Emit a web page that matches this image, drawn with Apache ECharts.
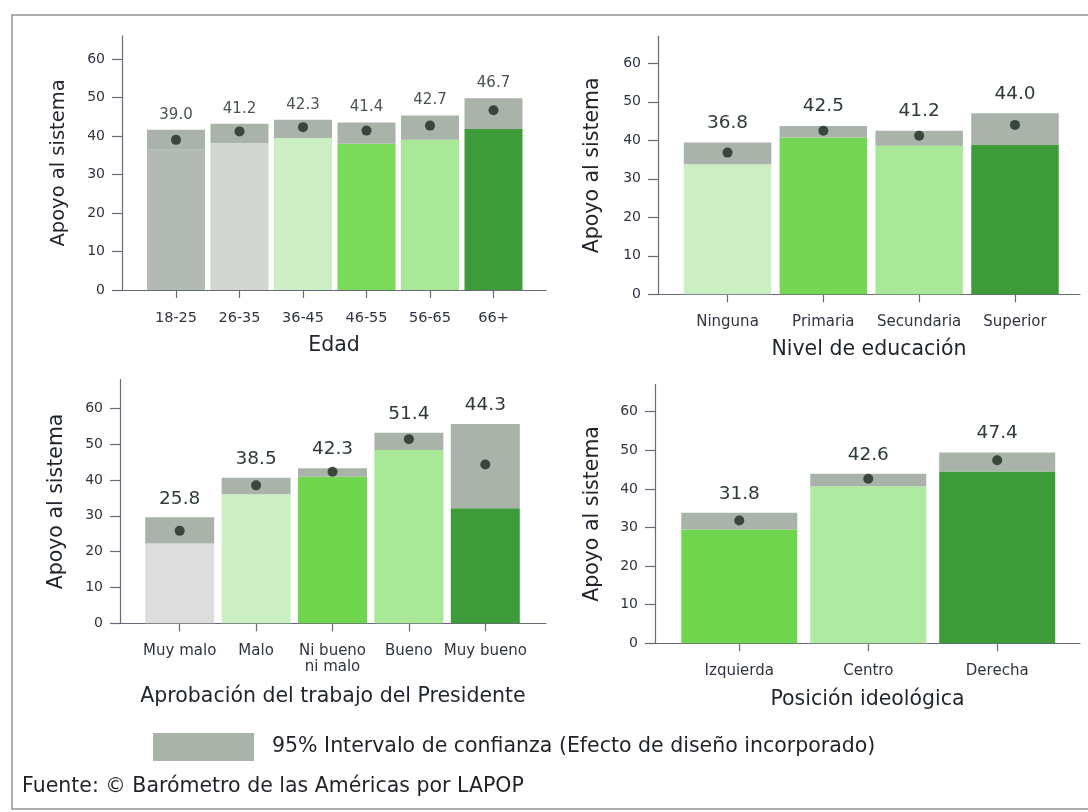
<!DOCTYPE html>
<html><head><meta charset="utf-8">
<script src="https://cdn.jsdelivr.net/npm/echarts@6/dist/echarts.min.js"></script>
<style>html,body{margin:0;padding:0;background:#fff}#c{width:1088px;height:812px}</style>
</head><body><div id="c"></div>
<script>
// ---------- DATA ----------
const yTicks = [0, 10, 20, 30, 40, 50, 60];

const edadCats = ['18-25', '26-35', '36-45', '46-55', '56-65', '66+'];
const edadMean = [39.0, 41.2, 42.3, 41.4, 42.7, 46.7];
const edadLow  = [36.4, 38.2, 39.5, 38.0, 39.0, 41.8];
const edadHigh = [41.6, 43.2, 44.2, 43.5, 45.3, 49.8];

const eduCats = ['Ninguna', 'Primaria', 'Secundaria', 'Superior'];
const eduMean = [36.8, 42.5, 41.2, 44.0];
const eduLow  = [33.8, 40.7, 38.6, 38.8];
const eduHigh = [39.4, 43.7, 42.5, 47.0];

const aprobCats = ['Muy malo', 'Malo', 'Ni bueno\nni malo', 'Bueno', 'Muy bueno'];
const aprobMean = [25.8, 38.5, 42.3, 51.4, 44.3];
const aprobLow  = [22.3, 36.0, 40.9, 48.4, 32.1];
const aprobHigh = [29.6, 40.6, 43.3, 53.2, 55.6];

const ideoCats = ['Izquierda', 'Centro', 'Derecha'];
const ideoMean = [31.8, 42.6, 47.4];
const ideoLow  = [29.5, 40.7, 44.5];
const ideoHigh = [33.8, 43.9, 49.4];

const yName = 'Apoyo al sistema';
const ciName = '95% Intervalo de confianza (Efecto de diseño incorporado)';
const sourceText = 'Fuente: © Barómetro de las Américas por LAPOP';

// ---------- STYLE ----------
const FONT = 'DejaVu Sans';
const CI_COLOR = '#a9b3aa';
const AXIS_COLOR = '#676b78';
const TEXT_COLOR = '#2f3440';
const G_DARK = '#3d9b3a', G_BRIGHT = '#74d652', G_LIGHT = '#a8e896', G_PALE = '#cbeec3';
const edadColors = ['#b3bab3', '#d2d7d2', G_PALE, '#7cda5a', G_LIGHT, G_DARK];
const eduColors = [G_PALE, G_BRIGHT, G_LIGHT, G_DARK];
const aprobColors = ['#dcdddc', G_PALE, '#6fd64e', G_LIGHT, G_DARK];
const ideoColors = ['#70d64e', '#aeeaa2', G_DARK];

const panels = [
  { cats: edadCats, mean: edadMean, low: edadLow, high: edadHigh, colors: edadColors, xName: 'Edad',
    axisX: 122, lineEnd: 546, catLeft: 144.25, catWidth: 381, zeroY: 290, ppu: 3.85, yMax: 66,
    barWidth: 58, valFont: 15, valColor: '#4a5252', valDist: 7.5, xNameGap: 45, yNameSize: 19.5, yNameGap: 53, catFont: 14.5 },
  { cats: eduCats, mean: eduMean, low: eduLow, high: eduHigh, colors: eduColors, xName: 'Nivel de educación',
    axisX: 658, lineEnd: 1080, catLeft: 679.6, catWidth: 383.3, zeroY: 294.3, ppu: 3.85, yMax: 67,
    barWidth: 87.5, valFont: 18.5, valColor: '#2f3b3b', valDist: 10, xNameGap: 45, yNameSize: 20.5, yNameGap: 54.5, catFont: 15 },
  { cats: aprobCats, mean: aprobMean, low: aprobLow, high: aprobHigh, colors: aprobColors, xName: 'Aprobación del trabajo del Presidente',
    axisX: 120, lineEnd: 546, catLeft: 141.5, catWidth: 382, zeroY: 623.3, ppu: 3.583, yMax: 68,
    barWidth: 69, valFont: 18.5, valColor: '#2f3b3b', valDist: 9, xNameGap: 62.5, yNameSize: 20.5, yNameGap: 53, catFont: 15 },
  { cats: ideoCats, mean: ideoMean, low: ideoLow, high: ideoHigh, colors: ideoColors, xName: 'Posición ideológica',
    axisX: 655, lineEnd: 1080, catLeft: 674.8, catWidth: 386.9, zeroY: 643.3, ppu: 3.861, yMax: 67,
    barWidth: 116, valFont: 18.5, valColor: '#2f3b3b', valDist: 9.5, xNameGap: 46, yNameSize: 20.5, yNameGap: 52, catFont: 15 }
];

const grid = [], xAxis = [], yAxis = [], series = [];
panels.forEach((p, k) => {
  const top = p.zeroY - p.yMax * p.ppu;
  const height = p.yMax * p.ppu;
  const gB = 2 * k, gA = 2 * k + 1;
  grid.push({ left: p.axisX, top: top, width: p.lineEnd - p.axisX, height: height });
  grid.push({ left: p.catLeft, top: top, width: p.catWidth, height: height });

  xAxis.push({
    gridIndex: gB, type: 'value', min: 0, max: 1,
    axisLine: { show: true, lineStyle: { color: AXIS_COLOR, width: 1.2 } },
    axisTick: { show: false }, axisLabel: { show: false }, splitLine: { show: false },
    name: p.xName, nameLocation: 'middle', nameGap: p.xNameGap,
    nameTextStyle: { fontFamily: FONT, fontSize: 20.5, color: '#1f242c' }
  });
  xAxis.push({
    gridIndex: gA, type: 'category', data: p.cats, boundaryGap: true,
    axisLine: { show: false },
    axisTick: { show: true, alignWithLabel: true, length: 8, lineStyle: { color: AXIS_COLOR, width: 1.2 } },
    axisLabel: { interval: 0, margin: 20, fontFamily: FONT, fontSize: p.catFont, lineHeight: 16, color: TEXT_COLOR },
    splitLine: { show: false }
  });
  yAxis.push({
    gridIndex: gB, type: 'value', min: 0, max: p.yMax,
    axisLine: { show: true, lineStyle: { color: AXIS_COLOR, width: 1.2 } },
    axisTick: { show: true, length: 10, customValues: yTicks, lineStyle: { color: AXIS_COLOR, width: 1.2 } },
    axisLabel: { customValues: yTicks, margin: 17, fontFamily: FONT, fontSize: 14, color: TEXT_COLOR },
    splitLine: { show: false },
    name: yName, nameLocation: 'middle', nameGap: p.yNameGap,
    nameTextStyle: { fontFamily: FONT, fontSize: p.yNameSize, color: '#1f242c' }
  });
  yAxis.push({ gridIndex: gA, type: 'value', min: 0, max: p.yMax, show: false });

  series.push({
    type: 'bar', xAxisIndex: gA, yAxisIndex: gA, stack: 's' + k, barWidth: p.barWidth,
    data: p.low.map((v, i) => ({ value: v, itemStyle: { color: p.colors[i] } })),
    silent: true
  });
  series.push({
    type: 'bar', name: ciName, xAxisIndex: gA, yAxisIndex: gA, stack: 's' + k, barWidth: p.barWidth,
    data: p.high.map((v, i) => +(v - p.low[i]).toFixed(2)),
    itemStyle: { color: CI_COLOR },
    label: { show: true, position: 'top', distance: p.valDist, fontFamily: FONT, fontSize: p.valFont, color: p.valColor,
      formatter: (q) => p.mean[q.dataIndex].toFixed(1) },
    silent: true
  });
  series.push({
    type: 'scatter', xAxisIndex: gA, yAxisIndex: gA, data: p.mean,
    symbolSize: 10, itemStyle: { color: '#1b2a20' }, z: 5, silent: true
  });
});

const chart = echarts.init(document.getElementById('c'), null, { renderer: 'canvas' });
chart.setOption({
  animation: false,
  backgroundColor: '#ffffff',
  grid, xAxis, yAxis, series,
  legend: {
    data: [ciName], left: 153, top: 733, padding: 0, icon: 'rect', itemWidth: 101, itemHeight: 28,
    selectedMode: false,
    textStyle: { fontFamily: FONT, fontSize: 20.5, color: '#1f2328', padding: [3, 0, 0, 13] }
  },
  graphic: [
    { type: 'rect', silent: true, z: -1,
      shape: { x: 12, y: 15, width: 1100, height: 794 },
      style: { fill: null, stroke: '#8d9494', lineWidth: 1.5 } },
    { type: 'text', left: 22, top: 776, silent: true,
      style: { text: sourceText, fontFamily: FONT, fontSize: 20.5, fill: '#1f2328' } }
  ]
});
</script></body></html>
